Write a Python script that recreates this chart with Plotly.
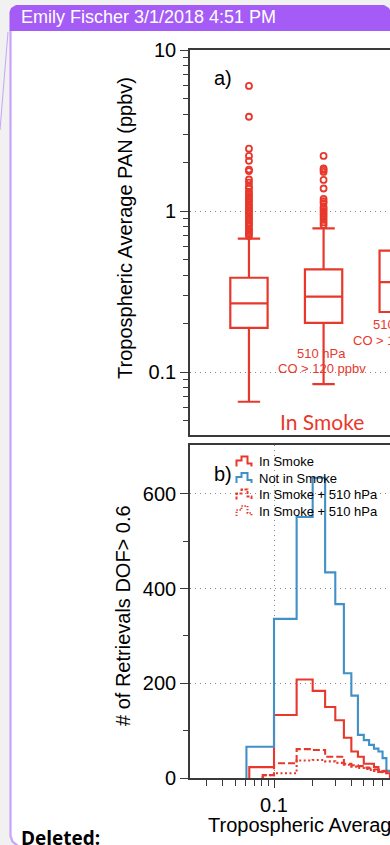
import plotly.graph_objects as go

W, H = 390, 845

RED = "#e8382c"
BLUE = "#4190c8"
AX = "#3a3a3a"
GRID = "#8c8c8c"
PURPLE = "#a55cf6"
PURPLE_LIGHT = "#c9a2fb"
FONT = "Liberation Sans, Arial, sans-serif"

# ---- panel a: tropospheric average PAN box statistics (ppbv) ----
box_pos = [0, 1, 2]
box_q1 = [0.188, 0.202, 0.236]
box_median = [0.267, 0.294, 0.362]
box_q3 = [0.385, 0.434, 0.567]
box_lower = [0.0654, 0.0842, 0.098]
box_upper = [0.673, 0.78, 1.25]

outliers_smoke = [5.98, 3.85, 2.44, 2.2, 2.05, 1.81, 1.77, 1.57, 1.5, 1.42, 1.38,
                  1.32, 1.28, 1.24, 1.2, 1.17, 1.14, 1.1, 1.07, 1.04, 1.01, 0.99,
                  0.96, 0.93, 0.9, 0.88, 0.85, 0.83, 0.81, 0.78, 0.76, 0.74, 0.72, 0.70]
outliers_smoke_510 = [2.2, 1.84, 1.8, 1.75, 1.56, 1.38, 1.19, 1.15, 1.12, 1.06,
                      1.03, 1.0, 0.97, 0.94, 0.91, 0.88, 0.85, 0.82]

# ---- panel b: histogram of retrievals with DOF > 0.6 ----
bin_edges = [0.10, 0.15, 0.20, 0.25, 0.30, 0.35, 0.40, 0.45,
             0.50, 0.55, 0.60, 0.65, 0.70, 0.75, 0.80]

hist_series = [
    # name, first edge, counts, color, dash
    ("In Smoke", 0.0642,
     [23, 133, 208, 184, 150, 122, 85, 56, 45, 30, 30, 23, 13, 14, 10], RED, "solid"),
    ("Not in Smoke", 0.061,
     [66, 336, 551, 634, 434, 367, 221, 174, 91, 80, 70, 62, 56, 42, 15], BLUE, "solid"),
    ("In Smoke + 510 hPa", 0.0817,
     [6, 31, 61, 59, 45, 45, 30, 27, 25, 22, 20, 18, 17, 15, 12], RED, "7px,3px"),
    ("In Smoke + 510 hPa", 0.0817,
     [6, 10, 37, 38, 35, 32, 28, 24, 21, 19, 17, 15, 13, 12, 10], RED, "2px,2.5px"),
]

a_minor = [0.05, 0.06, 0.07, 0.08, 0.09, 0.2, 0.3, 0.4, 0.5, 0.6, 0.7, 0.8, 0.9,
           2, 3, 4, 5, 6, 7, 8, 9]
b_minor = [0.03, 0.04, 0.05, 0.06, 0.07, 0.08, 0.09, 0.2, 0.3, 0.4, 0.5, 0.6, 0.7]


def px(x):
    return x / W


def py(y):
    return 1 - y / H


def path(points, close=False):
    s = "M" + " L".join(f"{px(x):.5f},{py(y):.5f}" for x, y in points)
    return s + (" Z" if close else "")


fig = go.Figure()

# the first two boxes share whisker caps; the third box uses narrow caps
for sl, ww in ((slice(0, 2), 0.6), (slice(2, 3), 0.2)):
    fig.add_trace(go.Box(
        x=box_pos[sl], q1=box_q1[sl], median=box_median[sl], q3=box_q3[sl],
        lowerfence=box_lower[sl], upperfence=box_upper[sl],
        width=0.5, whiskerwidth=ww, boxpoints=False,
        line=dict(color=RED, width=2.2), fillcolor="white",
        xaxis="x", yaxis="y", showlegend=False, hoverinfo="skip",
    ))

out_x = [box_pos[0]] * len(outliers_smoke) + [box_pos[1]] * len(outliers_smoke_510)
out_y = outliers_smoke + outliers_smoke_510
fig.add_trace(go.Scatter(
    x=out_x, y=out_y, mode="markers", xaxis="x", yaxis="y",
    marker=dict(symbol="circle-open", size=6, color=RED, line=dict(width=1.8, color=RED)),
    showlegend=False, hoverinfo="skip",
))

for name, start, counts, color, dash in hist_series:
    xs = [start, start] + bin_edges[:-1] + [bin_edges[-1]]
    ys = [0] + counts + [0]
    fig.add_trace(go.Scatter(
        x=xs, y=ys, mode="lines", line=dict(shape="hv", color=color, width=2.1, dash=dash),
        xaxis="x2", yaxis="y2", name=name, showlegend=False, hoverinfo="skip",
    ))

tickfont = dict(family=FONT, size=20, color="black")

fig.update_layout(
    width=W, height=H,
    margin=dict(l=0, r=0, t=0, b=0, autoexpand=False),
    paper_bgcolor="#f1f1f1",
    plot_bgcolor="rgba(0,0,0,0)",
    boxmode="overlay",
    xaxis=dict(
        domain=[px(190), 1], range=[-0.79, 1.89], anchor="y",
        showline=True, linecolor=AX, linewidth=1.6, mirror=True,
        ticks="", showticklabels=False, showgrid=False, zeroline=False,
    ),
    yaxis=dict(
        domain=[py(435), py(50)], type="log", range=[-1.391, 1], anchor="x",
        tickvals=[0.1, 1, 10], ticktext=["0.1", "1", "10"], tickfont=tickfont,
        ticks="outside", ticklen=8, tickwidth=1.4, tickcolor=AX,
        showline=True, linecolor=AX, linewidth=1.6,
        showgrid=True, gridcolor=GRID, gridwidth=1.2, griddash="1px,4px",
        minor=dict(tickvals=a_minor, ticks="outside", ticklen=5, tickwidth=1.2,
                   tickcolor=AX, showgrid=False),
        zeroline=False,
    ),
    xaxis2=dict(
        domain=[px(190), 1], type="log", range=[-1.654, -0.097], anchor="y2",
        tickvals=[0.1], ticktext=["0.1"], tickfont=tickfont,
        ticks="outside", ticklen=8, tickwidth=1.4, tickcolor=AX,
        showline=True, linecolor=AX, linewidth=1.6, mirror=True,
        showgrid=True, gridcolor=GRID, gridwidth=1.2, griddash="1px,4px",
        minor=dict(tickvals=b_minor, ticks="outside", ticklen=6, tickwidth=1.2,
                   tickcolor=AX, showgrid=False),
        zeroline=False,
    ),
    yaxis2=dict(
        domain=[py(778), py(445)], range=[0, 703], anchor="x2",
        tickvals=[0, 200, 400, 600], tickfont=tickfont,
        ticks="outside", ticklen=8, tickwidth=1.4, tickcolor=AX,
        showline=True, linecolor=AX, linewidth=1.6,
        showgrid=True, gridcolor=GRID, gridwidth=1.2, griddash="1px,4px",
        minor=dict(tickvals=[100, 300, 500], ticks="outside", ticklen=5, tickwidth=1.2,
                   tickcolor=AX, showgrid=False),
        zeroline=False,
    ),
)

# ---- comment card frame ----
shapes = [
    dict(type="path", xref="paper", yref="paper", layer="below", line=dict(width=0),
         fillcolor="white",
         path=path([(10, 31), (10, 836), (12, 842), (18, 847), (395, 847), (395, 31)], True)),
    dict(type="path", xref="paper", yref="paper", layer="below", line=dict(width=0),
         fillcolor=PURPLE,
         path=path([(9.5, 31), (9.5, 12), (11, 8), (16, 5), (384, 5), (389, 8),
                    (391, 12), (391, 31)], True)),
    dict(type="path", xref="paper", yref="paper", layer="below",
         line=dict(color=PURPLE_LIGHT, width=2.2),
         path=path([(10.5, 31), (10.5, 836), (12.5, 841.5), (18, 846)])),
    dict(type="line", xref="paper", yref="paper", layer="below",
         x0=px(8), y0=py(32), x1=px(0), y1=py(130),
         line=dict(color=PURPLE_LIGHT, width=1)),
]

# ---- legend glyphs for panel b ----
glyph = [(0, 10), (0, 4), (5, 4), (5, 0), (11, 0), (11, 7), (15, 7), (15, 10)]
legend_rows = [(456.5, RED, "solid", "In Smoke"),
               (473, BLUE, "solid", "Not in Smoke"),
               (489.5, RED, "3px,1.5px", "In Smoke + 510 hPa"),
               (506, RED, "1.2px,1.8px", "In Smoke + 510 hPa")]
annotations = []
for top, color, dash, label in legend_rows:
    shapes.append(dict(type="path", xref="paper", yref="paper",
                       line=dict(color=color, width=2, dash=dash),
                       path=path([(236.5 + gx, top + gy) for gx, gy in glyph])))
    annotations.append(dict(xref="paper", yref="paper", x=px(257), y=py(top + 5),
                            xanchor="left", yanchor="middle", showarrow=False,
                            text=label, font=dict(family=FONT, size=13, color="black")))


def note(x, y, text, size, color="black", family=FONT, xanchor="center", angle=0):
    annotations.append(dict(xref="paper", yref="paper", x=px(x), y=py(y), text=text,
                            xanchor=xanchor, yanchor="middle", showarrow=False,
                            textangle=angle, font=dict(family=family, size=size, color=color)))


note(19, 17.5, "Emily Fischer 3/1/2018 4:51 PM", 18, "white", xanchor="left")
note(212, 78, "a)", 20, xanchor="left")
note(212, 474, "b)", 20, xanchor="left")
note(321.5, 354, "510 hPa", 13, RED)
note(321.5, 368.5, "CO &gt; 120 ppbv", 13, RED)
note(397, 325, "510 hPa", 13, RED)
note(397, 340, "CO &gt; 150 ppbv", 13, RED)
note(321.5, 421, "In Smoke", 21, RED, family="Lato, sans-serif")
note(125, 228, "Tropospheric Average PAN (ppbv)", 20, angle=-90)
note(123, 616, "# of Retrievals DOF&gt; 0.6", 20, angle=-90)
note(206, 825, "Tropospheric Average PAN (ppbv)", 20, xanchor="left")
note(19, 838, "<b>Deleted:</b>", 19, family="Open Sans, sans-serif", xanchor="left")

fig.update_layout(shapes=shapes, annotations=annotations)

fig.write_html("out.html")
